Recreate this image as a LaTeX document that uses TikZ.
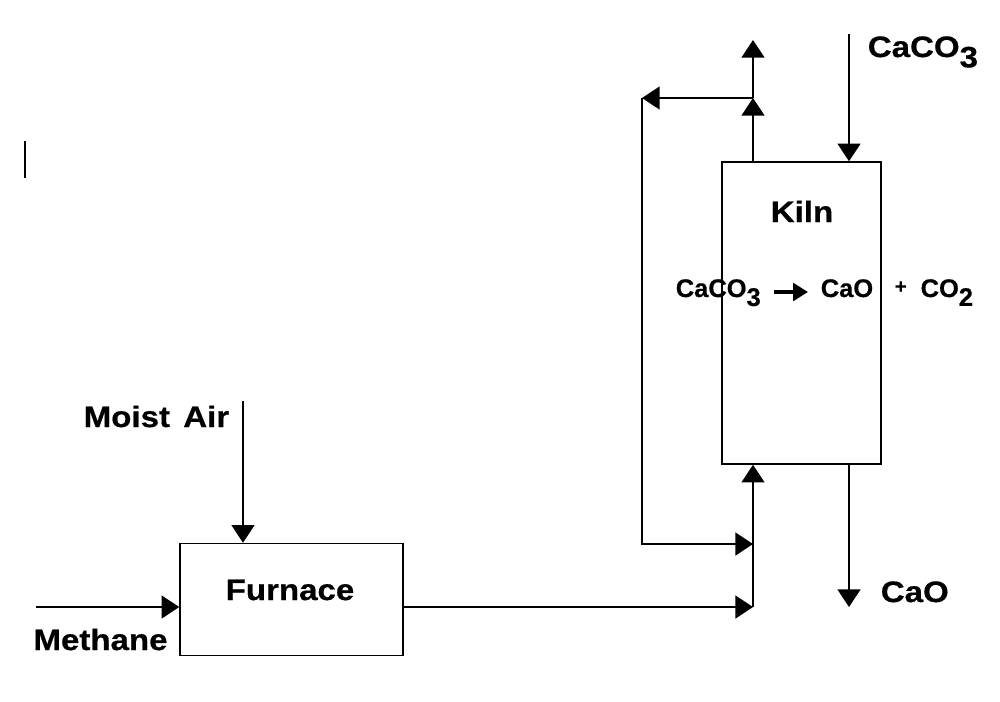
\documentclass[tikz,border=0pt]{standalone}
\usepackage{fontspec}
\setmainfont{Liberation Sans}
\newfontfamily\labelfont{Liberation Sans}[FakeStretch=1.12,BoldFeatures={FakeStretch=1.12,FakeBold=0.6}]
\newfontfamily\rxfont{Liberation Sans}[BoldFeatures={FakeBold=0.5}]
\usetikzlibrary{arrows.meta}
\newcommand\lowsub[1]{\raisebox{-0.35em}{#1}}
\begin{document}
\begin{tikzpicture}[x={(0.02cm,0)},y={(0,-0.02cm)},
  line width=0.9pt,
  flow/.style={-{Triangle[length=10pt,width=13pt]}},
  unitbox/.style={draw,rectangle,inner sep=0pt},
  lbl/.style={inner sep=0pt,font=\labelfont\fontsize{16.8}{20}\selectfont\bfseries},
  rx/.style={inner sep=0pt,font=\rxfont\fontsize{14.5}{17}\selectfont\bfseries},
  fat/.style={line width=2.8pt,-{Triangle[length=8.5pt,width=10pt]}}]
\useasboundingbox (0,0) rectangle (1000,701);

% units
\node[unitbox,minimum width=4.46cm,minimum height=2.24cm] (furnace) at (291.5,599.5) {};
\node[unitbox,minimum width=3.18cm,minimum height=6.04cm] (kiln) at (801.5,313) {};

% labels
\node[lbl,anchor=base] (furnacelbl) at (290,600) {Furnace};
\node[lbl,anchor=base] (kilnlbl) at (802,222) {Kiln};
\node[lbl,anchor=base] (methane) at (100.5,650) {Methane};
\node[lbl,anchor=base east] (moist) at (230,427) {Moist\hspace{0.45em}Air};
\node[lbl,anchor=base west] (caco3) at (867,57) {CaCO\lowsub{3}};
\node[lbl,anchor=base west] (cao) at (880,602) {CaO};

% reaction
\node[rx,anchor=base west] (r1) at (675,297) {CaCO\lowsub{3}};
\node[rx,anchor=base west] (r2) at (820,297) {CaO\hspace{0.85em}\raisebox{0.15em}{\fontsize{11.5}{13}\selectfont+}\hspace{0.55em}CO\lowsub{2}};
\draw[fat] ([shift={(12,-5)}]r1.base east) -- ([shift={(-12,-5)}]r2.base west);

% coordinates
\coordinate (j1) at (753,98);
\coordinate (top) at (753,40);
\coordinate (c1) at (642,98);
\coordinate (c2) at (642,544);
\coordinate (j2) at (753,544);
\coordinate (j3) at (753,607);
\coordinate (cin) at (849,34);
\coordinate (cout) at (849,607);
\coordinate (min) at (36,607);
\coordinate (ma) at (243,401);

% streams
\draw[flow] (j1 |- kiln.north) -- (j1);
\draw[flow] (j1) -- (top);
\draw[flow] (j1) -- (c1);
\draw[flow] (c1) -- (c2) -- (j2);
\draw[flow] (cin) -- (cin |- kiln.north);
\draw[flow] (cout |- kiln.south) -- (cout);
\draw[flow] (min) -- (min -| furnace.west);
\draw[flow] (ma) -- (ma |- furnace.north);
\draw[flow] (j3 -| furnace.east) -- (j3);
\draw[flow] (j3) -- (j3 |- kiln.south);

% stray mark
\draw[line width=1.2pt] (25,141) -- (25,178);
\end{tikzpicture}
\end{document}
